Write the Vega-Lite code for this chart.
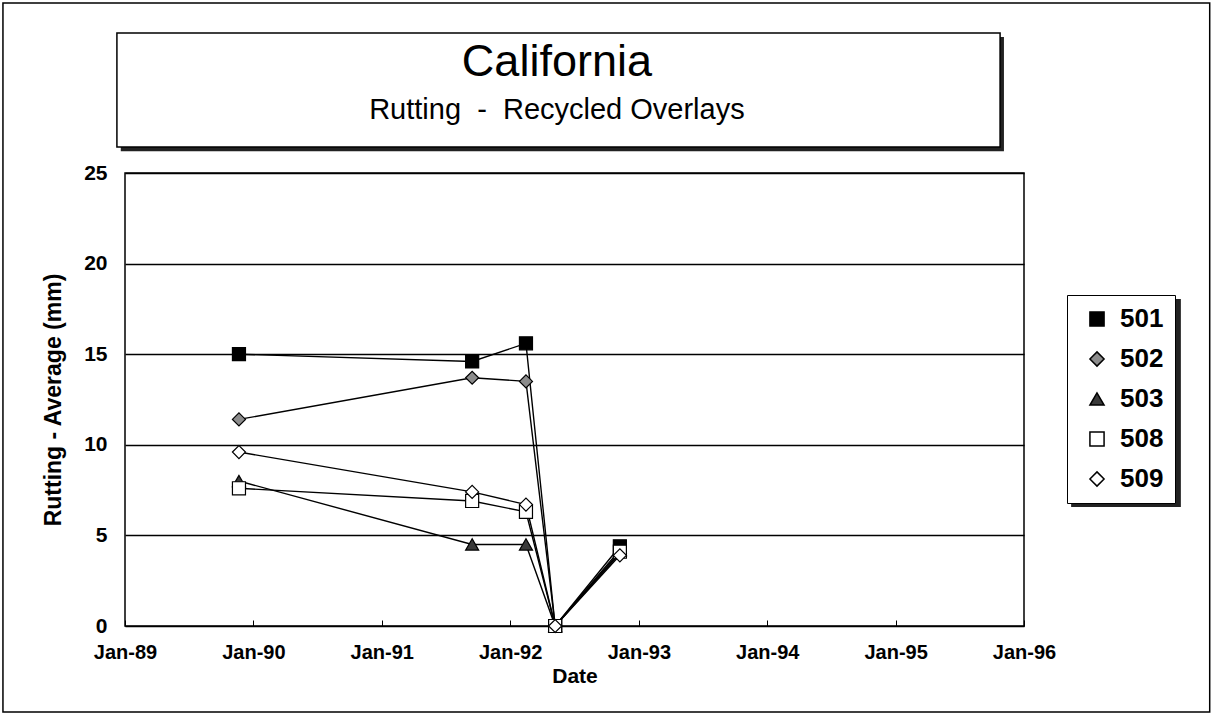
{
  "$schema": "https://vega.github.io/schema/vega-lite/v6.json",
  "width": 899,
  "height": 453,
  "autosize": {"type": "none"},
  "padding": {"left": 125, "top": 173, "right": 189, "bottom": 89},
  "background": "white",
  "data": {
    "values": [
      {"section": "501", "date": "1989-11-21", "rut": 15.0},
      {"section": "501", "date": "1991-09-15", "rut": 14.6},
      {"section": "501", "date": "1992-02-15", "rut": 15.6},
      {"section": "501", "date": "1992-05-08", "rut": 0},
      {"section": "501", "date": "1992-11-08", "rut": 4.4},
      {"section": "502", "date": "1989-11-21", "rut": 11.4},
      {"section": "502", "date": "1991-09-15", "rut": 13.7},
      {"section": "502", "date": "1992-02-15", "rut": 13.5},
      {"section": "502", "date": "1992-05-08", "rut": 0},
      {"section": "502", "date": "1992-11-08", "rut": 4.0},
      {"section": "503", "date": "1989-11-21", "rut": 8.0},
      {"section": "503", "date": "1991-09-15", "rut": 4.5},
      {"section": "503", "date": "1992-02-15", "rut": 4.5},
      {"section": "503", "date": "1992-05-08", "rut": 0},
      {"section": "503", "date": "1992-11-08", "rut": 4.2},
      {"section": "508", "date": "1989-11-21", "rut": 7.6},
      {"section": "508", "date": "1991-09-15", "rut": 6.9},
      {"section": "508", "date": "1992-02-15", "rut": 6.3},
      {"section": "508", "date": "1992-05-08", "rut": 0},
      {"section": "508", "date": "1992-11-08", "rut": 4.1},
      {"section": "509", "date": "1989-11-21", "rut": 9.6},
      {"section": "509", "date": "1991-09-15", "rut": 7.4},
      {"section": "509", "date": "1992-02-15", "rut": 6.7},
      {"section": "509", "date": "1992-05-08", "rut": 0},
      {"section": "509", "date": "1992-11-08", "rut": 3.9}
    ]
  },
  "config": {
    "font": "Liberation Sans",
    "view": {"stroke": "black", "strokeWidth": 1.5}
  },
  "layer": [
    {
      "data": {"values": [{}]},
      "mark": {"type": "rect", "clip": false, "filled": false, "stroke": "black", "strokeWidth": 1.5},
      "encoding": {
        "x": {"datum": {"year": 1988, "month": 1, "date": 20}, "type": "temporal"},
        "x2": {"datum": {"year": 1997, "month": 6, "date": 12}},
        "y": {"datum": 34.38, "type": "quantitative"},
        "y2": {"datum": -4.75}
      }
    },
    {
      "data": {"values": [{}]},
      "mark": {"type": "rect", "clip": false, "fill": "#222222", "stroke": null},
      "encoding": {
        "x": {"datum": {"year": 1988, "month": 12, "date": 20}, "type": "temporal"},
        "x2": {"datum": {"year": 1995, "month": 11, "date": 5}},
        "y": {"datum": 32.5, "type": "quantitative"},
        "y2": {"datum": 26.2}
      }
    },
    {
      "data": {"values": [{}]},
      "mark": {"type": "rect", "clip": false, "fill": "white", "stroke": "black", "strokeWidth": 1.5},
      "encoding": {
        "x": {"datum": {"year": 1988, "month": 12, "date": 9}, "type": "temporal"},
        "x2": {"datum": {"year": 1995, "month": 10, "date": 25}},
        "y": {"datum": 32.73, "type": "quantitative"},
        "y2": {"datum": 26.43}
      }
    },
    {
      "data": {"values": [{}]},
      "mark": {"type": "text", "clip": false, "font": "Liberation Sans", "fontSize": 45, "color": "black", "align": "center", "baseline": "middle", "text": "California"},
      "encoding": {
        "x": {"datum": {"year": 1992, "month": 5, "date": 13}, "type": "temporal"},
        "y": {"datum": 31.13, "type": "quantitative"}
      }
    },
    {
      "data": {"values": [{}]},
      "mark": {"type": "text", "clip": false, "font": "Liberation Sans", "fontSize": 29, "color": "black", "align": "center", "baseline": "middle", "text": "Rutting \u00a0-\u00a0 Recycled Overlays"},
      "encoding": {
        "x": {"datum": {"year": 1992, "month": 5, "date": 13}, "type": "temporal"},
        "y": {"datum": 28.48, "type": "quantitative"}
      }
    },
    {
      "data": {"values": [{}]},
      "mark": {"type": "rect", "clip": false, "fill": "#222222", "stroke": null},
      "encoding": {
        "x": {"datum": {"year": 1996, "month": 5, "date": 14}, "type": "temporal"},
        "x2": {"datum": {"year": 1997, "month": 3, "date": 22}},
        "y": {"datum": 18.05, "type": "quantitative"},
        "y2": {"datum": 6.57}
      }
    },
    {
      "mark": {"type": "line", "color": "black", "strokeWidth": 1.4},
      "encoding": {
        "x": {
          "field": "date",
          "type": "temporal",
          "scale": {"domain": [{"year": 1989, "month": 1, "date": 1}, {"year": 1996, "month": 1, "date": 1}]},
          "axis": {
            "title": "Date",
            "format": "%b-%y",
            "tickCount": {"interval": "year", "step": 1},
            "grid": false,
            "domain": false,
            "ticks": true,
            "tickColor": "black",
            "tickSize": -6,
            "labelPadding": 22,
            "labelFontSize": 20,
            "labelFontWeight": "bold",
            "labelColor": "black",
            "labelFlush": false,
            "titleFontSize": 21,
            "titleFontWeight": "bold",
            "titleColor": "black",
            "titlePadding": 3
          }
        },
        "y": {
          "field": "rut",
          "type": "quantitative",
          "scale": {"domain": [0, 25], "nice": false},
          "axis": {
            "title": "Rutting - Average (mm)",
            "values": [0, 5, 10, 15, 20, 25],
            "grid": true,
            "gridColor": "black",
            "gridWidth": 1.5,
            "gridOpacity": 1,
            "domain": false,
            "ticks": false,
            "labelPadding": 18,
            "labelFontSize": 21,
            "labelFontWeight": "bold",
            "labelColor": "black",
            "titleFontSize": 23,
            "titleFontWeight": "bold",
            "titleColor": "black",
            "titlePadding": 18
          }
        },
        "detail": {"field": "section", "type": "nominal"}
      }
    },
    {
      "mark": {"type": "point", "filled": true, "stroke": "black", "strokeWidth": 1.2, "size": 170, "opacity": 1},
      "encoding": {
        "x": {"field": "date", "type": "temporal"},
        "y": {"field": "rut", "type": "quantitative"},
        "shape": {
          "field": "section",
          "type": "nominal",
          "scale": {"domain": ["501", "502", "503", "508", "509"], "range": ["square", "diamond", "triangle-up", "square", "diamond"]},
          "legend": {
            "title": null,
            "orient": "none",
            "legendX": 942,
            "legendY": 122,
            "zindex": 2,
            "fillColor": "white",
            "strokeColor": "black",
            "padding": 11,
            "symbolSize": 200,
            "symbolOffset": 6,
            "labelFontSize": 26,
            "labelFontWeight": "bold",
            "labelColor": "black",
            "rowPadding": 14,
            "labelOffset": 10,
            "encode": {
              "legend": {"update": {"strokeWidth": {"value": 1.5}}},
              "symbols": {"update": {"stroke": {"value": "black"}, "strokeWidth": {"value": 1.2}}}
            }
          }
        },
        "fill": {
          "field": "section",
          "type": "nominal",
          "scale": {"domain": ["501", "502", "503", "508", "509"], "range": ["black", "#8c8c8c", "#3a3a3a", "white", "white"]},
          "legend": {
            "title": null,
            "orient": "none",
            "legendX": 942,
            "legendY": 122,
            "zindex": 2,
            "fillColor": "white",
            "strokeColor": "black",
            "padding": 11,
            "symbolSize": 200,
            "symbolOffset": 6,
            "labelFontSize": 26,
            "labelFontWeight": "bold",
            "labelColor": "black",
            "rowPadding": 14,
            "labelOffset": 10,
            "encode": {
              "legend": {"update": {"strokeWidth": {"value": 1.5}}},
              "symbols": {"update": {"stroke": {"value": "black"}, "strokeWidth": {"value": 1.2}}}
            }
          }
        }
      }
    }
  ]
}
